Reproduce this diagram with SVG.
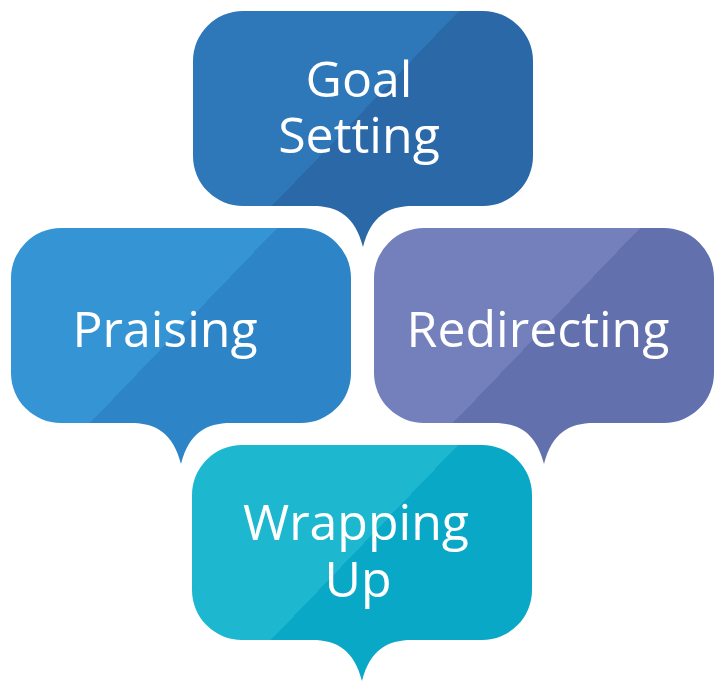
<svg xmlns="http://www.w3.org/2000/svg" xmlns:xlink="http://www.w3.org/1999/xlink" width="724" height="692" viewBox="0 0 724 692">
  <style>
    .bubble { stroke: #ffffff; stroke-width: 18; paint-order: stroke; stroke-linejoin: round; }
    .label { font-family: "Open Sans", "Noto Sans", "Liberation Sans", sans-serif; font-size: 50px; fill: #ffffff; text-anchor: middle; }
  </style>
  <defs>
    <path id="shape" d="M 50,0 H 290 A 50 50 0 0 1 340 50 V 145 A 50 50 0 0 1 290 195 H 220 C 195,195 178,205 170,236 C 162,205 145,195 120,195 H 50 A 50 50 0 0 1 0 145 V 50 A 50 50 0 0 1 50 0 Z"/>
    <linearGradient id="gGoal" gradientUnits="userSpaceOnUse" x1="71" y1="-187" x2="461" y2="187">
      <stop offset="0.5" stop-color="#2e77b8"/>
      <stop offset="0.5" stop-color="#2a68a8"/>
    </linearGradient>
    <linearGradient id="gPraise" gradientUnits="userSpaceOnUse" x1="71" y1="-187" x2="461" y2="187">
      <stop offset="0.5" stop-color="#3494d4"/>
      <stop offset="0.5" stop-color="#2d85c7"/>
    </linearGradient>
    <linearGradient id="gRedirect" gradientUnits="userSpaceOnUse" x1="71" y1="-187" x2="461" y2="187">
      <stop offset="0.5" stop-color="#7380bb"/>
      <stop offset="0.5" stop-color="#6370ae"/>
    </linearGradient>
    <linearGradient id="gWrap" gradientUnits="userSpaceOnUse" x1="71" y1="-187" x2="461" y2="187">
      <stop offset="0.5" stop-color="#1db8d0"/>
      <stop offset="0.5" stop-color="#09a8c7"/>
    </linearGradient>
  </defs>
  <rect width="724" height="692" fill="#ffffff"/>
  <g id="connectors"></g>
  <g id="praising" transform="translate(11,228)">
    <use xlink:href="#shape" class="bubble" fill="url(#gPraise)"/>
    <text class="label" x="154" y="119">Praising</text>
  </g>
  <g id="redirecting" transform="translate(374,228)">
    <use xlink:href="#shape" class="bubble" fill="url(#gRedirect)"/>
    <text class="label" x="164" y="119">Redirecting</text>
  </g>
  <g id="goal-setting" transform="translate(193,11)">
    <use xlink:href="#shape" class="bubble" fill="url(#gGoal)"/>
    <text class="label" x="166" y="86">Goal<tspan x="166" dy="56">Setting</tspan></text>
  </g>
  <g id="wrapping-up" transform="translate(192,445)">
    <use xlink:href="#shape" class="bubble" fill="url(#gWrap)"/>
    <text class="label" x="164" y="95">Wrapping<tspan x="166" dy="57">Up</tspan></text>
  </g>
</svg>
